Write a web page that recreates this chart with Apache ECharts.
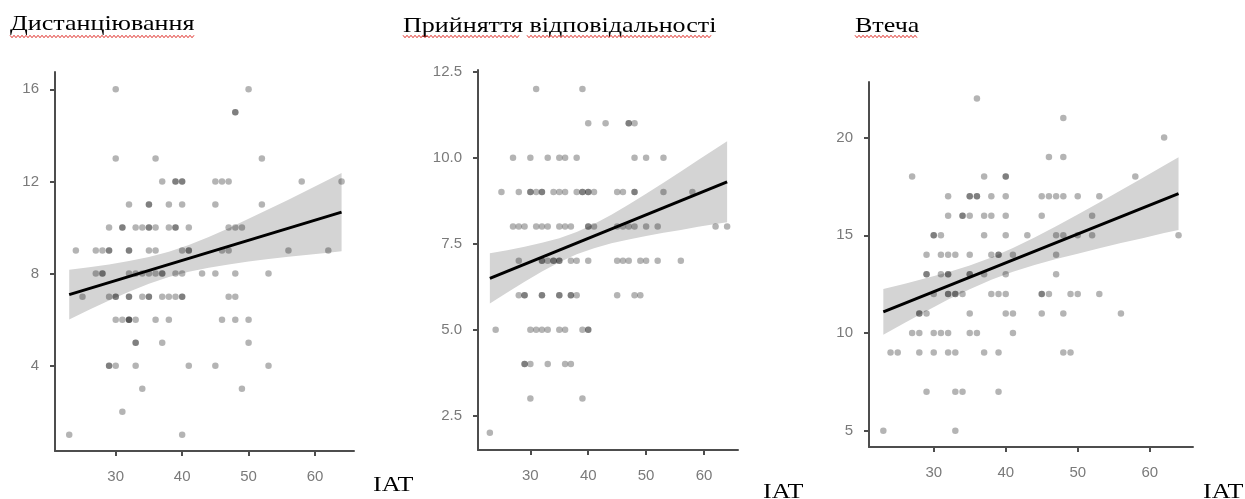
<!DOCTYPE html>
<html>
<head>
<meta charset="utf-8">
<script src="https://cdn.jsdelivr.net/npm/echarts@6/dist/echarts.min.js"></script>
<style>
  html, body { margin: 0; padding: 0; background: #ffffff; }
  #chart { width: 1245px; height: 499px; }
</style>
</head>
<body>
<div id="chart"></div>
<script>
// ---- text ----
const panelTitles = ['Дистанціювання', 'Прийняття відповідальності', 'Втеча'];
const xName = 'IAT';

// ---- tick labels ----
const xTicks = [30, 40, 50, 60];
const distTicks = [4, 8, 12, 16];
const respTicks = [2.5, 5.0, 7.5, 10.0, 12.5];
const escTicks = [5, 10, 15, 20];

// ---- Дистанціювання: score levels and the IAT values of the people at each level ----
const distLevels = [16, 15, 13, 12, 11, 10, 9, 8, 7, 6, 5, 4, 3, 2, 1];
const distIAT = [
  [30, 50],
  [48, 48],
  [30, 36, 52],
  [37, 39, 39, 40, 40, 45, 46, 47, 58, 64],
  [32, 35, 35, 38, 40, 45, 52],
  [29, 31, 31, 33, 34, 35, 35, 36, 38, 39, 39, 41, 47, 48, 49],
  [24, 27, 28, 29, 29, 32, 32, 35, 36, 40, 41, 41, 46, 47, 56, 62],
  [27, 28, 28, 32, 33, 34, 35, 36, 37, 37, 39, 40, 43, 45, 48, 53],
  [25, 29, 30, 30, 32, 32, 34, 35, 35, 37, 38, 39, 40, 40, 47, 48],
  [30, 31, 32, 32, 32, 33, 36, 38, 46, 48, 50],
  [33, 33, 37, 50],
  [29, 29, 30, 33, 41, 45, 53],
  [34, 49],
  [31],
  [23, 40]
];

// ---- Прийняття відповідальності ----
const respLevels = [12, 11, 10, 9, 8, 7, 6, 5, 4, 3, 2];
const respIAT = [
  [31, 39],
  [40, 43, 47, 47, 48],
  [27, 30, 33, 35, 36, 38, 48, 50, 53],
  [25, 28, 30, 30, 31, 32, 32, 34, 35, 36, 38, 39, 39, 40, 40, 41, 45, 46, 48, 48, 53, 58],
  [27, 28, 29, 31, 32, 33, 35, 36, 37, 40, 40, 41, 45, 46, 47, 48, 50, 52, 62, 64],
  [28, 32, 32, 33, 34, 34, 35, 35, 37, 38, 40, 45, 46, 47, 49, 50, 52, 56],
  [28, 29, 29, 32, 32, 35, 35, 37, 37, 38, 45, 48, 49],
  [24, 30, 31, 32, 33, 35, 36, 39, 40, 40],
  [29, 29, 30, 33, 36, 37],
  [30, 39],
  [23]
];

// ---- Втеча ----
const escLevels = [22, 21, 20, 19, 18, 17, 16, 15, 14, 13, 12, 11, 10, 9, 7, 5];
const escIAT = [
  [36],
  [48],
  [62],
  [46, 48],
  [27, 37, 40, 40, 58],
  [32, 35, 35, 36, 36, 38, 40, 45, 46, 47, 48, 50, 53],
  [32, 34, 34, 35, 37, 38, 40, 45, 52],
  [30, 30, 31, 37, 40, 43, 47, 48, 50, 52, 64],
  [29, 31, 32, 33, 35, 38, 39, 39, 41, 47],
  [29, 29, 31, 32, 32, 35, 35, 37, 40, 47],
  [30, 32, 32, 33, 33, 34, 38, 39, 40, 45, 45, 46, 49, 50, 53],
  [28, 28, 29, 35, 40, 41, 45, 48, 56],
  [27, 28, 30, 31, 32, 35, 36, 41],
  [24, 25, 28, 30, 32, 33, 37, 39, 48, 49],
  [29, 33, 34, 39],
  [23, 33]
];

// ---- fitted lines (ends) ----
const fitIAT = [23, 64];
const distFit = [7.09, 10.67];
const respFit = [6.49, 9.30];
const escFit = [11.08, 17.13];

// ---- confidence bands ----
const bandIAT = [23, 26, 29, 32, 35, 38, 41, 44, 47, 50, 53, 56, 59, 62, 64];
const distLower = [6.01, 6.43, 6.83, 7.21, 7.56, 7.85, 8.08, 8.25, 8.40, 8.53, 8.63, 8.73, 8.82, 8.91, 8.97];
const distUpper = [8.17, 8.28, 8.40, 8.55, 8.72, 8.95, 9.24, 9.59, 9.97, 10.38, 10.79, 11.21, 11.64, 12.07, 12.37];
const respLower = [5.76, 6.08, 6.39, 6.69, 6.96, 7.19, 7.37, 7.51, 7.62, 7.72, 7.82, 7.90, 7.99, 8.07, 8.12];
const respUpper = [7.22, 7.31, 7.41, 7.53, 7.66, 7.84, 8.07, 8.34, 8.64, 8.95, 9.27, 9.60, 9.93, 10.26, 10.48];
const escLower = [9.91, 10.52, 11.13, 11.71, 12.24, 12.72, 13.13, 13.48, 13.78, 14.06, 14.34, 14.60, 14.85, 15.11, 15.27];
const escUpper = [12.25, 12.52, 12.81, 13.11, 13.46, 13.86, 14.35, 14.88, 15.46, 16.06, 16.68, 17.30, 17.93, 18.57, 18.99];

// ---- layout of the three panels ----
const panels = [
  { levels: distLevels, iat: distIAT, fit: distFit, lower: distLower, upper: distUpper, yTicks: distTicks, yFmt: v => String(v),
    grid: { left: 55, top: 72, width: 299, height: 379 }, xRange: [20.86, 65.87], yRange: [0.30, 16.75],
    title: { x: 10, y: 14 }, under: [[10, 195]], name: { x: 373, y: 475 } },
  { levels: respLevels, iat: respIAT, fit: respFit, lower: respLower, upper: respUpper, yTicks: respTicks, yFmt: v => v.toFixed(1),
    grid: { left: 478, top: 70, width: 260, height: 380 }, xRange: [20.95, 65.88], yRange: [1.50, 12.55],
    title: { x: 403, y: 16 }, under: [[403, 520], [527, 712]], name: { x: 763, y: 482 } },
  { levels: escLevels, iat: escIAT, fit: escFit, lower: escLower, upper: escUpper, yTicks: escTicks, yFmt: v => String(v),
    grid: { left: 869, top: 82, width: 324, height: 365 }, xRange: [21.01, 66.01], yRange: [4.17, 22.84],
    title: { x: 855, y: 16 }, under: [[855, 918]], name: { x: 1203, y: 482 } }
];

const axisColor = '#4d4d4d';
const labelColor = '#7a7a7a';
const sansFont = 'Liberation Sans, Arial, sans-serif';
const serifFont = 'Liberation Serif, Times New Roman, serif';

const grids = [], xAxes = [], yAxes = [], series = [], graphics = [];

// red wavy spell-check style underline
function wavy(x0, x1, y) {
  const pts = [];
  let up = true;
  for (let x = x0; x <= x1; x += 2) {
    pts.push([x, up ? y - 1.2 : y + 1.2]);
    up = !up;
  }
  return { type: 'polyline', shape: { points: pts }, style: { stroke: '#e0302a', lineWidth: 1, fill: null }, silent: true };
}

panels.forEach((p, i) => {
  grids.push(Object.assign({ containLabel: false }, p.grid));
  xAxes.push({
    type: 'value', gridIndex: i, min: p.xRange[0], max: p.xRange[1],
    splitLine: { show: false },
    axisLine: { show: true, lineStyle: { color: axisColor, width: 2 } },
    axisTick: { show: true, length: 5, customValues: xTicks, lineStyle: { color: axisColor, width: 2 } },
    axisLabel: { customValues: xTicks, color: labelColor, fontSize: 15, fontFamily: sansFont, margin: 18 }
  });
  yAxes.push({
    type: 'value', gridIndex: i, min: p.yRange[0], max: p.yRange[1],
    splitLine: { show: false },
    axisLine: { show: true, lineStyle: { color: axisColor, width: 2 } },
    axisTick: { show: true, length: 5, customValues: p.yTicks, lineStyle: { color: axisColor, width: 2 } },
    axisLabel: { customValues: p.yTicks, color: labelColor, fontSize: 15, fontFamily: sansFont, margin: 16, formatter: p.yFmt }
  });

  // confidence band as one polygon through the band arrays
  const lower = p.lower, upper = p.upper;
  series.push({
    type: 'custom', xAxisIndex: i, yAxisIndex: i, z: 1, silent: true,
    data: bandIAT.map((x, k) => [x, lower[k], upper[k]]),
    encode: { x: 0, y: [1, 2] },
    renderItem: (params, api) => {
      if (params.dataIndex !== 0) return;
      const pts = [];
      bandIAT.forEach((x, k) => pts.push(api.coord([x, upper[k]])));
      for (let k = bandIAT.length - 1; k >= 0; k--) pts.push(api.coord([bandIAT[k], lower[k]]));
      return { type: 'polygon', shape: { points: pts }, style: { fill: '#d4d4d4' } };
    }
  });

  // individual observations
  const pts = [];
  p.levels.forEach((lv, k) => p.iat[k].forEach(x => pts.push([x, lv])));
  series.push({
    type: 'scatter', xAxisIndex: i, yAxisIndex: i, z: 2, data: pts,
    symbol: 'circle', symbolSize: 6.5,
    itemStyle: { color: 'rgba(0,0,0,0.37)' }, silent: true
  });

  // fitted line
  series.push({
    type: 'line', xAxisIndex: i, yAxisIndex: i, z: 3,
    data: fitIAT.map((x, k) => [x, p.fit[k]]),
    symbol: 'none', lineStyle: { color: '#000000', width: 3 }, silent: true
  });

  graphics.push({
    type: 'text', left: p.title.x, top: p.title.y, scaleX: 1.24,
    style: { text: panelTitles[i], font: '21px ' + serifFont, fill: '#000000' }
  });
  p.under.forEach(u => graphics.push(wavy(u[0], u[1], 36.5)));
  graphics.push({
    type: 'text', left: p.name.x, top: p.name.y, scaleX: 1.24,
    style: { text: xName, font: '21px ' + serifFont, fill: '#000000' }
  });
});

const chart = echarts.init(document.getElementById('chart'), null, { renderer: 'canvas' });
chart.setOption({
  animation: false,
  backgroundColor: '#ffffff',
  grid: grids,
  xAxis: xAxes,
  yAxis: yAxes,
  series: series,
  graphic: graphics
});
</script>
</body>
</html>
